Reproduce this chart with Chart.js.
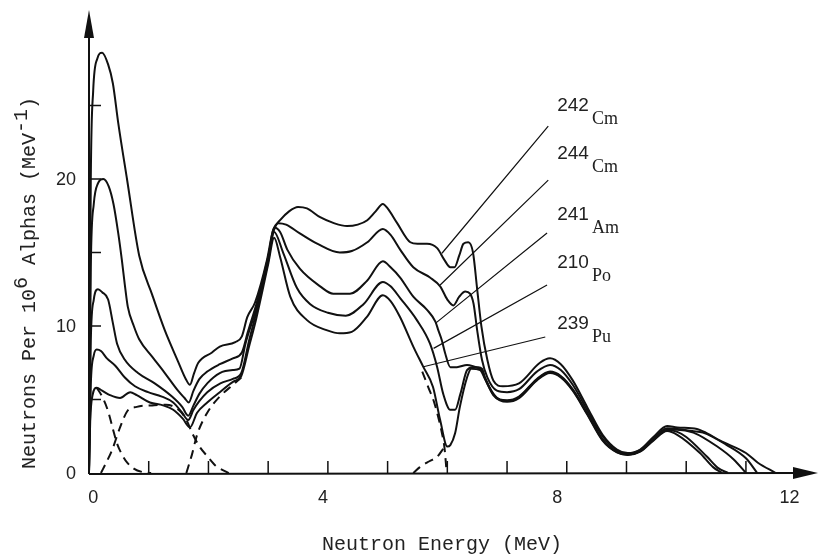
<!DOCTYPE html>
<html><head><meta charset="utf-8">
<script src="https://cdn.jsdelivr.net/npm/chart.js@4.4.1/dist/chart.umd.min.js"></script>
<style>html,body{margin:0;padding:0;background:#fff}</style>
</head><body>
<canvas id="c" width="819" height="556"></canvas>
<script>
// ---- data (neutron energy MeV, neutrons per 1e6 alphas per MeV) ----
const cm242E = [0,0.03,0.07,0.14,0.22,0.32,0.40,0.49,0.64,0.84,1.06,1.27,1.49,1.62,1.69,1.76,1.83,2.06,2.19,2.45,2.56,2.65,2.78,2.98,3.08,3.20,3.35,3.50,3.65,3.87,4.10,4.32,4.50,4.66,4.80,4.92,5.00,5.16,5.38,5.50,5.66,5.83,5.95,6.05,6.12,6.20,6.27,6.35,6.43,6.50,6.57,6.67,6.77,6.93,7.20,7.55,7.72,7.90,8.10,8.34,8.60,8.84,9.02,9.23,9.45,9.68,9.85,10.18,10.35,10.57,11.00,11.20,11.50];
const cm242N = [0,20,26,28.2,28.6,27.8,26.5,23.8,19.9,14.8,12.1,9.7,7.6,6.4,6.0,6.8,7.5,8.2,8.6,8.9,9.3,10.6,11.6,14.5,16.5,17.2,17.8,18.1,18.0,17.4,17.0,16.8,16.9,17.2,17.8,18.3,18.0,17.0,15.7,15.6,15.6,15.3,14.5,14.0,14.0,14.8,15.6,15.7,15.0,12.5,10.0,7.7,6.3,5.9,6.1,7.5,7.8,7.4,6.3,4.5,2.6,1.6,1.36,1.6,2.45,3.2,3.1,3.0,2.7,2.2,1.36,0.7,0];

const cm244E = [0,0.03,0.08,0.15,0.24,0.33,0.41,0.49,0.55,0.60,0.65,0.75,0.84,1.06,1.27,1.49,1.60,1.67,1.75,1.85,1.98,2.19,2.41,2.56,2.66,2.81,3.00,3.08,3.17,3.30,3.53,3.82,4.20,4.40,4.66,4.92,5.05,5.21,5.43,5.71,5.88,6.00,6.10,6.20,6.30,6.38,6.44,6.50,6.58,6.67,6.83,7.00,7.20,7.50,7.72,7.90,8.10,8.34,8.60,8.84,9.02,9.23,9.45,9.68,9.85,10.10,10.28,10.68,11.00,11.19];
const cm244N = [0,14,18.3,19.7,20.0,19.5,18.3,16.3,14.5,12.8,11.3,10.0,9.1,7.9,6.8,5.6,5.1,4.8,5.6,6.4,6.9,7.4,7.8,8.2,9.6,11.6,14.7,16.3,17.0,16.9,16.3,15.6,15.0,15.1,15.7,16.6,16.2,15.2,14.0,13.3,12.7,11.8,11.4,12.0,12.35,12.2,11.5,9.7,7.7,6.5,5.6,5.5,5.7,6.9,7.35,7.0,6.0,4.3,2.5,1.55,1.32,1.55,2.35,3.05,3.0,2.85,2.75,1.9,1.0,0];

const am241E = [0,0.03,0.08,0.15,0.22,0.32,0.40,0.47,0.60,0.82,1.10,1.39,1.56,1.66,1.75,1.85,1.98,2.19,2.41,2.52,2.62,2.80,3.00,3.10,3.20,3.32,3.53,3.87,4.09,4.37,4.66,4.92,5.05,5.21,5.43,5.66,5.80,5.85,5.91,5.96,6.05,6.16,6.33,6.50,6.58,6.63,6.77,6.88,7.00,7.20,7.50,7.72,7.90,8.10,8.34,8.60,8.84,9.02,9.23,9.45,9.68,9.85,10.12,10.52,10.80,11.00];
const am241N = [0,9,11.8,12.5,12.3,11.8,10.2,8.8,7.7,6.8,6.1,5.2,4.5,3.9,4.6,5.4,6.1,6.8,7.0,7.1,8.8,11.2,14.6,16.7,16.4,15.2,13.9,12.7,12.2,12.2,13.1,14.4,14.0,13.3,12.0,11.1,10.3,9.7,9.0,8.2,7.2,7.2,7.35,7.2,7.1,6.5,5.4,5.0,4.95,5.2,6.4,6.9,6.6,5.7,4.1,2.3,1.45,1.28,1.5,2.3,2.95,2.95,2.75,1.8,0.9,0];

const po210E = [0,0.03,0.08,0.13,0.20,0.30,0.44,0.60,0.77,0.99,1.22,1.41,1.56,1.66,1.75,1.85,1.98,2.20,2.41,2.55,2.68,2.80,3.00,3.10,3.25,3.48,3.70,4.00,4.30,4.60,4.92,5.05,5.21,5.49,5.71,5.83,5.93,6.05,6.13,6.22,6.33,6.43,6.58,6.63,6.77,6.88,7.00,7.20,7.50,7.72,7.90,8.10,8.34,8.60,8.84,9.02,9.23,9.45,9.68,9.85,10.00,10.35,10.53,10.70];
const po210N = [0,6,8.0,8.4,8.3,7.8,7.3,6.5,5.9,5.5,5.2,4.8,4.1,3.6,4.3,4.9,5.5,6.1,6.4,6.8,9.0,10.9,14.4,16.4,15.0,12.6,11.5,10.9,10.7,11.5,13.0,12.7,11.9,10.4,8.8,7.2,5.4,4.3,4.3,5.4,7.0,7.2,7.0,6.45,5.35,4.97,4.9,5.15,6.35,6.85,6.55,5.65,4.05,2.25,1.42,1.25,1.48,2.25,2.9,2.8,2.45,1.1,0.35,0];

const pu239E = [0,0.02,0.06,0.13,0.22,0.35,0.52,0.69,0.80,1.02,1.24,1.41,1.57,1.69,1.81,1.98,2.19,2.41,2.55,2.68,2.80,3.00,3.10,3.20,3.37,3.65,3.99,4.20,4.40,4.65,4.92,5.05,5.21,5.43,5.60,5.76,5.88,6.00,6.05,6.13,6.21,6.33,6.40,6.55,6.63,6.77,6.88,7.00,7.20,7.50,7.72,7.90,8.10,8.34,8.60,8.84,9.02,9.23,9.45,9.68,9.85,10.23,10.45,10.60];
const pu239N = [0,3.5,5.3,5.8,5.6,5.3,5.1,5.5,5.3,4.8,4.6,4.3,3.7,3.1,4.1,4.8,5.5,6.2,6.6,8.6,10.5,14.2,16.0,14.7,12.0,10.4,9.7,9.5,9.6,10.6,12.1,11.7,10.6,8.6,7.2,5.85,3.6,1.8,1.9,2.7,4.5,6.5,7.1,7.0,6.4,5.3,4.95,4.85,5.1,6.3,6.8,6.5,5.6,4.0,2.2,1.4,1.22,1.45,2.2,2.85,2.6,1.36,0.4,0];

// dashed component curves
const compAE = [0.13,0.22,0.32,0.40,0.47,0.56,0.64,0.75,0.89,1.04];
const compAN = [5.8,5.2,4.2,3.0,2.0,1.2,0.7,0.3,0.07,0];
const compBE = [0.20,0.30,0.39,0.52,0.64,0.80,1.06,1.29,1.50,1.62,1.73,1.85,1.99,2.12,2.34];
const compBN = [0,0.8,1.6,3.1,4.2,4.5,4.6,4.65,4.3,3.7,2.7,1.8,1.1,0.5,0];
const compCE = [1.63,1.72,1.81,1.98,2.19,2.41,2.55];
const compCN = [0,1.2,2.6,4.1,5.2,6.0,6.5];
const compDE = [5.58,5.68,5.78,5.86,5.91,5.95,5.99];
const compDN = [6.9,5.85,4.8,3.6,2.7,1.8,0];
const compEE = [5.43,5.54,5.70,5.83,5.94];
const compEN = [0,0.4,0.8,1.1,1.7];

// axis ticks and labels
const xMinorTicks = [1,2,3,4,5,6,7,8,9,10,11];
const yMinorTicks = [5,10,15,20,25];
const xTickLabels = ['0','4','8','12'];
const yTickValues = [0,10,20];

// isotope labels
const isoMass = ['242','244','241','210','239'];
const isoElem = ['Cm','Cm','Am','Po','Pu'];

// ---- build ----
const pts = (E, N) => E.map((e, i) => ({x: e, y: N[i]}));
const solid = (E, N, label) => ({label, data: pts(E, N), borderColor: '#111', borderWidth: 2, fill: false, clip: 8, cubicInterpolationMode: 'monotone', pointRadius: 0});
const dashed = (E, N, label) => ({label, data: pts(E, N), borderColor: '#111', borderWidth: 2, borderDash: [9, 6], fill: false, clip: 8, cubicInterpolationMode: 'monotone', pointRadius: 0});

const datasets = [
  solid(cm242E, cm242N, '242Cm'),
  solid(cm244E, cm244N, '244Cm'),
  solid(am241E, am241N, '241Am'),
  solid(po210E, po210N, '210Po'),
  solid(pu239E, pu239N, '239Pu'),
  dashed(compAE, compAN, 'c1'),
  dashed(compBE, compBN, 'c2'),
  dashed(compCE, compCN, 'c3'),
  dashed(compDE, compDN, 'c4'),
  dashed(compEE, compEN, 'c5')
];

// annotation layout (data units)
const layoutCfg = {
  xLabelAt: [0.07, 3.92, 7.84, 11.73],
  labelAt: [[7.84, 24.97], [7.84, 21.7], [7.84, 17.55], [7.84, 14.29], [7.84, 10.14]],
  leaderFrom: [[7.69, 23.6], [7.69, 19.93], [7.67, 16.33], [7.67, 12.79], [7.64, 9.25]],
  leaderTo: [[5.91, 14.95], [5.88, 12.79], [5.80, 10.18], [5.77, 8.48], [5.60, 7.23]]
};

const decor = {
  id: 'decor',
  afterDatasetsDraw(chart) {
    const {ctx, chartArea: ca, scales: {x, y}} = chart;
    const X = v => x.getPixelForValue(v), Y = v => y.getPixelForValue(v);
    const x0 = X(0), y0 = Y(0);
    ctx.save();
    ctx.strokeStyle = '#111'; ctx.fillStyle = '#111';
    // axes
    ctx.lineWidth = 2;
    ctx.beginPath();
    ctx.moveTo(x0, y0 + 1); ctx.lineTo(ca.right - 20, y0);
    ctx.moveTo(x0, y0 + 1); ctx.lineTo(x0, ca.top + 24);
    ctx.stroke();
    ctx.beginPath();
    ctx.moveTo(ca.right + 1, y0); ctx.lineTo(ca.right - 24, y0 - 6); ctx.lineTo(ca.right - 24, y0 + 6); ctx.closePath(); ctx.fill();
    ctx.beginPath();
    ctx.moveTo(x0, ca.top); ctx.lineTo(x0 - 5, ca.top + 28); ctx.lineTo(x0 + 5, ca.top + 28); ctx.closePath(); ctx.fill();
    // minor ticks (inward)
    ctx.lineWidth = 1.5;
    ctx.beginPath();
    xMinorTicks.forEach(v => { ctx.moveTo(X(v), y0); ctx.lineTo(X(v), y0 - 12); });
    yMinorTicks.forEach(v => { ctx.moveTo(x0, Y(v)); ctx.lineTo(x0 + 12, Y(v)); });
    ctx.stroke();
    // tick labels
    ctx.fillStyle = '#222';
    ctx.font = '18px "Liberation Sans"';
    ctx.textBaseline = 'middle';
    ctx.textAlign = 'center';
    xTickLabels.forEach((t, i) => ctx.fillText(t, X(layoutCfg.xLabelAt[i]), y0 + 25));
    ctx.textAlign = 'right';
    yTickValues.forEach(v => ctx.fillText(String(v), x0 - 13, Y(v) + 1));
    // axis titles
    ctx.font = '20px "Liberation Mono"';
    ctx.textAlign = 'center';
    ctx.fillText('Neutron Energy (MeV)', ca.left + 353, y0 + 72);
    // y title with superscripts, rotated
    ctx.save();
    ctx.translate(30, y0 - 4);
    ctx.rotate(-Math.PI / 2);
    ctx.textAlign = 'left';
    const parts = [['Neutrons Per 10', 0], ['6', -8], [' Alphas (MeV', 0], ['-1', -8], [')', 0]];
    let px = 0;
    parts.forEach(([s, dy]) => { ctx.fillText(s, px, dy); px += ctx.measureText(s).width; });
    ctx.restore();
    // isotope labels and leaders
    ctx.strokeStyle = '#111';
    ctx.lineWidth = 1.2;
    ctx.beginPath();
    layoutCfg.leaderFrom.forEach((p, i) => {
      const q = layoutCfg.leaderTo[i];
      ctx.moveTo(X(p[0]), Y(p[1])); ctx.lineTo(X(q[0]), Y(q[1]));
    });
    ctx.stroke();
    ctx.textAlign = 'left';
    layoutCfg.labelAt.forEach((p, i) => {
      const lx = X(p[0]), ly = Y(p[1]);
      ctx.font = '19px "Liberation Sans"';
      ctx.fillText(isoMass[i], lx, ly);
      const w = ctx.measureText(isoMass[i]).width;
      ctx.font = '18px "Liberation Serif"';
      ctx.fillText(isoElem[i], lx + w + 3, ly + 13);
    });
    ctx.restore();
  }
};

new Chart(document.getElementById('c'), {
  type: 'line',
  data: {datasets},
  options: {
    responsive: false,
    animation: false,
    devicePixelRatio: 1,
    layout: {padding: {left: 89, top: 10, right: 2, bottom: 83}},
    scales: {
      x: {type: 'linear', min: 0, max: 12.19, display: false},
      y: {type: 'linear', min: 0, max: 31.5, display: false}
    },
    plugins: {legend: {display: false}, tooltip: {enabled: false}}
  },
  plugins: [decor]
});
</script>
</body></html>
